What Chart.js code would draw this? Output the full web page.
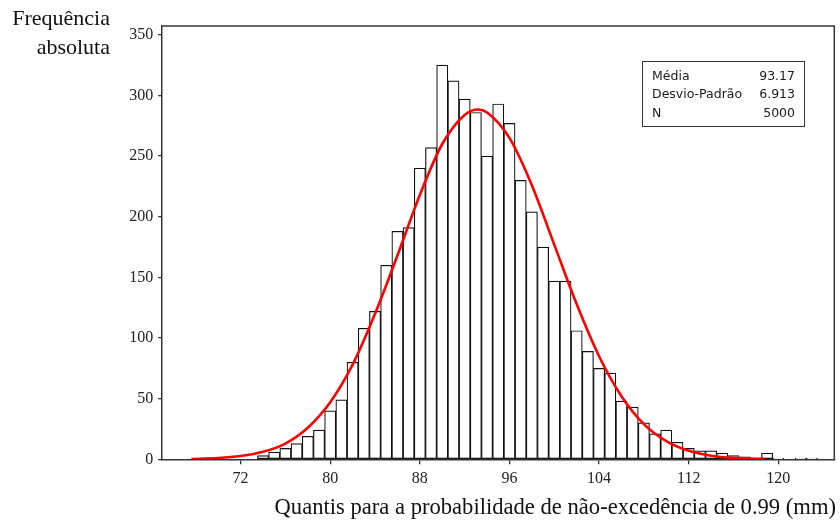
<!DOCTYPE html>
<html>
<head>
<meta charset="utf-8">
<script src="https://cdn.jsdelivr.net/npm/chart.js@4.4.0/dist/chart.umd.min.js"></script>
<style>
  body { margin: 0; background: #fff; }
  #wrap { position: relative; width: 840px; height: 522px; overflow: hidden; }
  #chart { position: absolute; left: 0; top: 0; }
  .title { position: absolute; font-family: "Liberation Serif", "Times New Roman", serif; font-size: 22px; color: #111; white-space: nowrap; }
  #ytitle { right: 730px; top: 3px; text-align: right; line-height: 29px; }
  #xtitle { right: 4px; top: 494px; font-size: 22.6px; }
  #stats { position: absolute; left: 642px; top: 61px; width: 161px; height: 59px; border: 1.5px solid #333;
           font-family: "DejaVu Sans", sans-serif; font-size: 12.5px; color: #1a1a1a; padding-top: 5px; box-sizing: content-box; }
  #stats div { display: flex; justify-content: space-between; padding: 0 9px 0 9px; line-height: 18.3px; }
</style>
</head>
<body>
<div id="wrap">
  <canvas id="chart" width="840" height="522"></canvas>
  <div id="ytitle" class="title">Frequência<br>absoluta</div>
  <div id="xtitle" class="title">Quantis para a probabilidade de não-excedência de 0.99 (mm)</div>
  <div id="stats">
    <div><span>Média</span><span>93.17</span></div>
    <div><span>Desvio-Padrão</span><span>6.913</span></div>
    <div><span>N</span><span>5000</span></div>
  </div>
</div>
<script>
// axis ticks
const yTicks = [0, 50, 100, 150, 200, 250, 300, 350];
const xTicks = [72, 80, 88, 96, 104, 112, 120];

// histogram: bin midpoints (width 1 mm) and counts
const binMids = [74, 75, 76, 77, 78, 79, 80, 81, 82, 83, 84, 85, 86, 87, 88, 89, 90, 91, 92, 93,
                 94, 95, 96, 97, 98, 99, 100, 101, 102, 103, 104, 105, 106, 107, 108, 109, 110, 111, 112, 113,
                 114, 115, 116, 117, 118, 119, 120, 122, 123];
const binCounts = [3, 6, 9, 13, 19, 24, 40, 49, 80, 108, 122, 160, 188, 191, 240, 257, 325, 312, 297, 286,
                   250, 293, 277, 230, 204, 175, 147, 147, 106, 89, 75, 71, 48, 43, 30, 21, 24, 14, 9, 7,
                   7, 5, 3, 2, 1, 5, 1, 1, 1];

// fitted normal curve
const curveX = [67.6, 70, 72, 74, 76, 78, 80, 82, 84, 86, 88, 90, 92, 93.2, 94, 96, 98, 100, 102, 104, 106, 108, 110, 112, 114, 116, 118, 118.8];
const curveY = [0.3, 1, 2.7, 6.2, 13, 26, 47, 78, 120, 168, 218, 260, 284, 288.5, 286, 265, 226, 177, 128, 85, 52, 29, 15, 7, 3, 1.2, 0.5, 0.3];

// top and right sides of the plot box
const frame = {
  id: 'frame',
  afterDatasetsDraw(chart) {
    const { ctx, chartArea: a } = chart;
    ctx.save();
    ctx.strokeStyle = '#333';
    ctx.lineWidth = 1.5;
    ctx.beginPath();
    ctx.moveTo(a.left, a.top);
    ctx.lineTo(a.right, a.top);
    ctx.lineTo(a.right, a.bottom);
    ctx.stroke();
    ctx.restore();
  }
};

const tickFont = { family: 'Liberation Serif', size: 16 };

new Chart(document.getElementById('chart'), {
  type: 'bar',
  data: {
    datasets: [
      {
        type: 'line',
        data: curveX.map((x, i) => ({ x, y: curveY[i] })),
        borderColor: '#ff0000',
        borderWidth: 2.6,
        pointRadius: 0,
        cubicInterpolationMode: 'monotone',
        fill: false
      },
      {
        type: 'bar',
        data: binMids.map((x, i) => ({ x, y: binCounts[i] })),
        backgroundColor: '#ffffff',
        borderColor: '#111111',
        borderWidth: 1.2,
        borderSkipped: false,
        barPercentage: 1,
        categoryPercentage: 1
      }
    ]
  },
  options: {
    responsive: false,
    animation: false,
    layout: { padding: { top: 26, right: 5.7, left: 0, bottom: 0 } },
    plugins: { legend: { display: false }, tooltip: { enabled: false } },
    scales: {
      x: {
        type: 'linear',
        min: 65,
        max: 125,
        offset: false,
        afterBuildTicks: s => { s.ticks = xTicks.map(v => ({ value: v })); },
        afterFit: s => { s.height = 62.7; },
        grid: { display: true, offset: false, drawOnChartArea: false, drawTicks: true, tickLength: 5, color: '#333', lineWidth: 1.3 },
        border: { display: true, color: '#333', width: 1.5 },
        ticks: { font: tickFont, color: '#222', padding: 5, maxRotation: 0, autoSkip: false }
      },
      y: {
        min: 0,
        max: 357.3,
        afterBuildTicks: s => { s.ticks = yTicks.map(v => ({ value: v })); },
        afterFit: s => { s.width = 162.2; },
        grid: { display: true, drawOnChartArea: false, drawTicks: true, tickLength: 4, color: '#333', lineWidth: 1.3 },
        border: { display: true, color: '#333', width: 1.5 },
        ticks: { font: tickFont, color: '#222', padding: 5 }
      }
    }
  },
  plugins: [frame]
});
</script>
</body>
</html>
